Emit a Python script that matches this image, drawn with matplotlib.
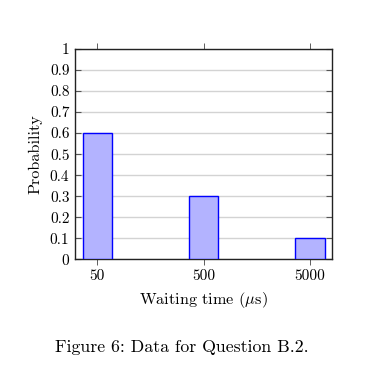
import matplotlib
matplotlib.use("Agg")
import matplotlib.pyplot as plt
import numpy as np

plt.rcParams['font.family'] = 'serif'
plt.rcParams['font.serif'] = ['cmr10']
plt.rcParams['mathtext.fontset'] = 'cm'
plt.rcParams['axes.formatter.use_mathtext'] = True

waiting_times = [50, 500, 5000]
probabilities = [0.6, 0.3, 0.1]
y_ticks = [0, 0.1, 0.2, 0.3, 0.4, 0.5, 0.6, 0.7, 0.8, 0.9, 1.0]
y_tick_labels = ["0", "0.1", "0.2", "0.3", "0.4", "0.5", "0.6", "0.7", "0.8", "0.9", "1"]
x_tick_labels = ["50", "500", "5000"]

fig = plt.figure(figsize=(3.72, 3.70), dpi=100)
ax = fig.add_axes([0.2016, 0.2992, 0.6901, 0.5684])

xs = np.array(waiting_times, dtype=float)
f = 1.37
ax.bar(xs / f, probabilities, width=xs * f - xs / f, align='edge',
       color='#b3b3ff', edgecolor='#0000ff', linewidth=1.0, zorder=3)

ax.set_xscale('log')
ax.set_xlim(31, 8000)
ax.set_ylim(0, 1)
ax.set_xticks(waiting_times)
ax.set_xticklabels(x_tick_labels)
ax.xaxis.set_minor_locator(matplotlib.ticker.NullLocator())
ax.set_yticks(y_ticks)
ax.set_yticklabels(y_tick_labels)

ax.yaxis.grid(True, color='#d3d3d3', linewidth=1.0, zorder=0)
ax.set_axisbelow(True)

ax.tick_params(axis='x', direction='out', top=True, bottom=True, length=4,
               width=0.6, color='#444444', labelsize=11, pad=3)
ax.tick_params(axis='y', direction='in', left=True, right=True, length=4,
               width=0.8, color='#555555', labelsize=11, pad=4)

for s in ax.spines.values():
    s.set_color('#222222')
    s.set_linewidth(1.0)

ax.set_xlabel(r'Waiting time ($\mu$s)', fontsize=11.7, labelpad=5)
ax.set_ylabel('Probability', fontsize=11.7, labelpad=5)

fig.text(55 / 372, 1 - 347 / 370, 'Figure 6: Data for Question B.2.',
         fontsize=12.8, ha='left', va='center')

fig.savefig('out.png', dpi=100)
